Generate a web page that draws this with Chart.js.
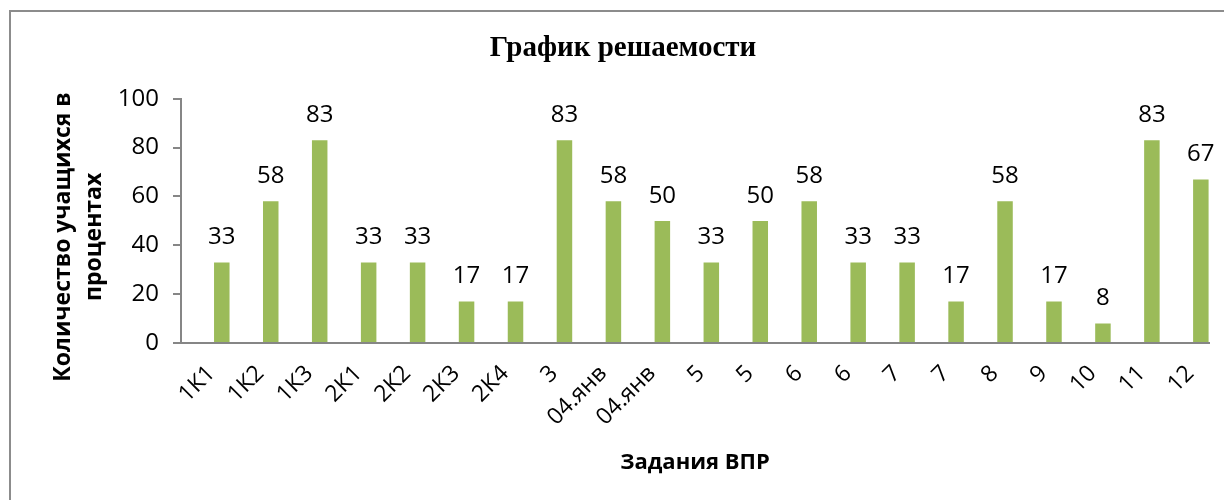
<!DOCTYPE html>
<html lang="ru">
<head>
<meta charset="utf-8">
<title>График решаемости</title>
<script src="https://cdn.jsdelivr.net/npm/chart.js@4.4.1/dist/chart.umd.min.js"></script>
<style>
    html, body {
        margin: 0;
        padding: 0;
        background: #ffffff;
        overflow: hidden;
        width: 1224px;
        height: 500px;
    }
    /* chart frame, cut off on the right and bottom like the original */
    #frame {
        position: absolute;
        left: 9px;
        top: 10px;
        width: 1400px;
        height: 700px;
        border: 2px solid #8c8c8c;
        box-sizing: border-box;
    }
    #wrap {
        position: absolute;
        left: 11px;
        top: 12px;
        width: 1226px;
        height: 488px;
    }
</style>
</head>
<body>
<div id="frame"></div>
<div id="wrap"><canvas id="chart"></canvas></div>
<script>
// Data
const tasks = ['1К1', '1К2', '1К3', '2К1', '2К2', '2К3', '2К4', '3', '04.янв', '04.янв',
    '5', '5', '6', '6', '7', '7', '8', '9', '10', '11', '12'];
const solvedPercent = [33, 58, 83, 33, 33, 17, 17, 83, 58, 50, 33, 50, 58, 33, 33, 17, 58, 17, 8, 83, 67];
// the source workbook had two empty series in front of the real one
const emptySeries = tasks.map(() => null);
const yTicks = [0, 20, 40, 60, 80, 100];

const chartTitle = 'График решаемости';
const xTitle = 'Задания ВПР';
const yTitle = ['Количество учащихся в', 'процентах'];

const barColor = '#9bbb59';
const axisColor = '#868686';
const labelFont = 'Open Sans';

// value labels above the bars of the real series
const valueLabels = {
    id: 'valueLabels',
    afterDatasetsDraw(chart) {
        const ctx = chart.ctx;
        const meta = chart.getDatasetMeta(2);
        ctx.save();
        ctx.font = `24px "${labelFont}"`;
        ctx.fillStyle = '#000000';
        ctx.textAlign = 'center';
        ctx.textBaseline = 'middle';
        meta.data.forEach((bar, i) => {
            ctx.fillText(String(solvedPercent[i]), bar.x, bar.y - 25);
        });
        ctx.restore();
    }
};

// y axis title, two rotated lines centred a bit below the plot middle
const yAxisTitle = {
    id: 'yAxisTitle',
    afterDraw(chart) {
        const ctx = chart.ctx;
        const area = chart.chartArea;
        const midY = (area.top + area.bottom) / 2 + 16;
        ctx.save();
        ctx.font = `bold 23px "${labelFont}"`;
        ctx.fillStyle = '#000000';
        ctx.textAlign = 'center';
        ctx.textBaseline = 'middle';
        yTitle.forEach((line, i) => {
            ctx.save();
            ctx.translate(52 + i * 31, midY);
            ctx.rotate(-Math.PI / 2);
            ctx.fillText(line, 0, 0);
            ctx.restore();
        });
        ctx.restore();
    }
};

const ctx = document.getElementById('chart').getContext('2d');

new Chart(ctx, {
    type: 'bar',
    data: {
        labels: tasks,
        datasets: [
            { label: 'Ряд1', data: emptySeries, backgroundColor: barColor },
            { label: 'Ряд2', data: emptySeries, backgroundColor: barColor },
            { label: 'Решаемость', data: solvedPercent, backgroundColor: barColor }
        ]
    },
    options: {
        responsive: true,
        maintainAspectRatio: false,
        animation: false,
        layout: {
            // left padding keeps the title centred on the whole frame
            padding: { left: 26, right: 28, top: 0, bottom: 0 }
        },
        datasets: {
            bar: {
                categoryPercentage: 1.0,
                barPercentage: 0.95
            }
        },
        plugins: {
            legend: { display: false },
            tooltip: { enabled: false },
            title: {
                display: true,
                text: chartTitle,
                color: '#000000',
                font: { family: '"Liberation Serif", "Times New Roman", serif', size: 29, weight: 'bold' },
                padding: { top: 19, bottom: 33 }
            }
        },
        scales: {
            x: {
                grid: { display: false, drawTicks: false },
                border: { display: true, color: axisColor, width: 2 },
                ticks: {
                    autoSkip: false,
                    maxRotation: 45,
                    minRotation: 45,
                    padding: 17,
                    labelOffset: 6,
                    color: '#000000',
                    font: { family: labelFont, size: 23 }
                },
                title: {
                    display: true,
                    text: xTitle,
                    color: '#000000',
                    font: { family: labelFont, size: 22, weight: 'bold' },
                    padding: { top: 0, bottom: 24 }
                },
                afterFit(scale) {
                    scale.height = 157;
                }
            },
            y: {
                min: 0,
                max: 100,
                afterBuildTicks(scale) {
                    scale.ticks = yTicks.map(v => ({ value: v }));
                },
                grid: {
                    display: true,
                    drawOnChartArea: false,
                    drawTicks: true,
                    tickLength: 8,
                    color: axisColor,
                    lineWidth: 2
                },
                border: { display: true, color: axisColor, width: 2 },
                ticks: {
                    padding: 14,
                    color: '#000000',
                    font: { family: labelFont, size: 24 }
                },
                title: { display: false },
                afterFit(scale) {
                    scale.width = 144;
                }
            }
        }
    },
    plugins: [valueLabels, yAxisTitle]
});
</script>
</body>
</html>
